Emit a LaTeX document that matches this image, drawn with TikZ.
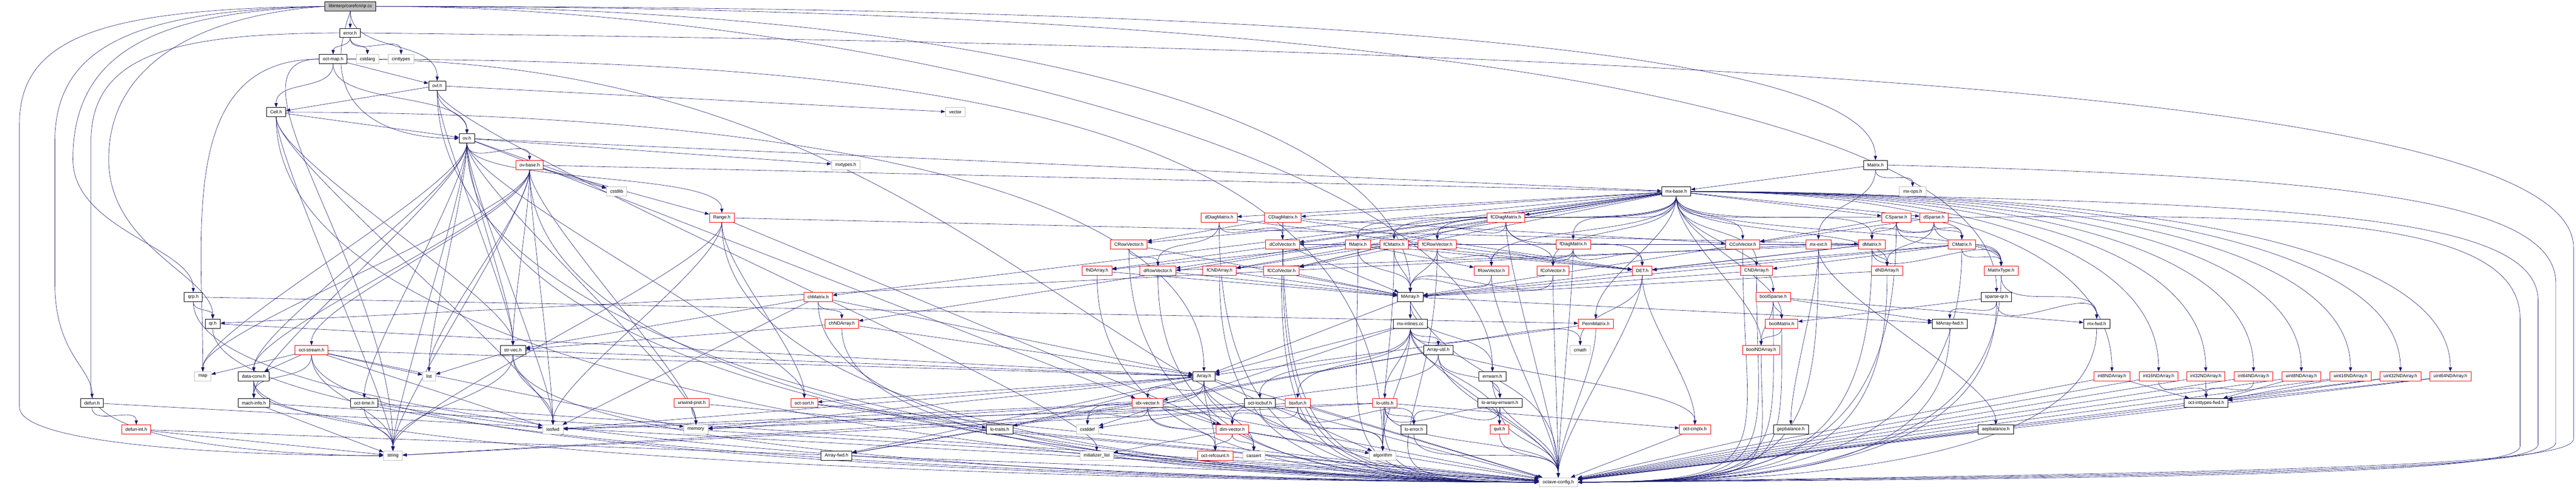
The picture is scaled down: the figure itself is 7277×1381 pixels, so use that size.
\documentclass[tikz,border=0pt]{standalone}
\usepackage{fontspec}
\setmainfont{Liberation Sans}
\usetikzlibrary{arrows.meta,backgrounds}
\definecolor{edgeblue}{HTML}{191970}
\definecolor{extgray}{HTML}{BFBFBF}
\begin{document}
\begin{tikzpicture}[x=0.1pt,y=-0.1pt,
    box/.style={draw, fill=white, line width=0.11pt, inner xsep=1.05pt, inner ysep=0pt, minimum height=2.6pt, font=\fontsize{1.3}{1.5}\selectfont},
    rootbox/.style={box, fill=extgray},
    filebox/.style={box, draw=black},
    trunc/.style={box, draw=red},
    extern/.style={box, draw=extgray},
    dep/.style={draw=edgeblue, line width=0.09pt, -{Triangle[length=1.2pt,width=0.9pt]}},
    dn/.style={out=-90, in=90, max distance=12pt},
    ocl/.style={out=-90, in=180, out distance=#1, in distance=60pt},
    ocr/.style={out=-90, in=0, out distance=#1, in distance=60pt}]
  \useasboundingbox (0,0) rectangle (7277,1381);
  \node[rootbox] (qrcc) at (990,18) {libinterp/corefcn/qr.cc};
  \node[filebox] (errorh) at (989,93) {error.h};
  \node[filebox] (octmap) at (941,167) {oct-map.h};
  \node[extern] (cstdarg) at (1038,167) {cstdarg};
  \node[extern] (cinttypes) at (1133,167) {cinttypes};
  \node[filebox] (ovlh) at (1235,242) {ovl.h};
  \node[filebox] (cellh) at (780,317) {Cell.h};
  \node[extern] (vector) at (2699,317) {vector};
  \node[filebox] (ovh) at (1319,391) {ov.h};
  \node[trunc] (ovbase) at (1496,466) {ov-base.h};
  \node[extern] (mxtypes) at (2389,466) {mxtypes.h};
  \node[filebox] (matrixh) at (5298,466) {Matrix.h};
  \node[extern] (cstdlib) at (1742,541) {cstdlib};
  \node[filebox] (mxbase) at (4735,541) {mx-base.h};
  \node[extern] (mxops) at (5403,541) {mx-ops.h};
  \node[trunc] (rangeh) at (2039,615) {Range.h};
  \node[trunc] (ddiag) at (3444,615) {dDiagMatrix.h};
  \node[trunc] (cdiag) at (3624,615) {CDiagMatrix.h};
  \node[trunc] (fcdiag) at (4254,615) {fCDiagMatrix.h};
  \node[trunc] (csparse) at (5357,615) {CSparse.h};
  \node[trunc] (dsparse) at (5463,615) {dSparse.h};
  \node[trunc] (crowvec) at (3189,690) {CRowVector.h};
  \node[trunc] (dcolvec) at (3623,690) {dColVector.h};
  \node[trunc] (fmatrix) at (3836,690) {fMatrix.h};
  \node[trunc] (fcmatrix) at (3938,690) {fCMatrix.h};
  \node[trunc] (fcrowvec) at (4060,690) {fCRowVector.h};
  \node[trunc] (fdiag) at (4444,690) {fDiagMatrix.h};
  \node[trunc] (ccolvec) at (4923,690) {CColVector.h};
  \node[trunc] (mxext) at (5137,690) {mx-ext.h};
  \node[trunc] (dmatrix) at (5288,690) {dMatrix.h};
  \node[trunc] (cmatrix) at (5542,690) {CMatrix.h};
  \node[trunc] (fnd) at (3099,765) {fNDArray.h};
  \node[trunc] (drowvec) at (3271,765) {dRowVector.h};
  \node[trunc] (fcnd) at (3445,765) {fCNDArray.h};
  \node[trunc] (fccolvec) at (3620,765) {fCColVector.h};
  \node[trunc] (frowvec) at (4213,765) {fRowVector.h};
  \node[trunc] (fcolvec) at (4387,765) {fColVector.h};
  \node[trunc] (deth) at (4639,765) {DET.h};
  \node[trunc] (cnd) at (4962,765) {CNDArray.h};
  \node[trunc] (dnd) at (5331,765) {dNDArray.h};
  \node[trunc] (mtype) at (5653,765) {MatrixType.h};
  \node[filebox] (qrph) at (546,839) {qrp.h};
  \node[trunc] (chmatrix) at (2311,839) {chMatrix.h};
  \node[filebox] (marray) at (3984,839) {MArray.h};
  \node[trunc] (boolsparse) at (5009,839) {boolSparse.h};
  \node[filebox] (sparseqr) at (5640,839) {sparse-qr.h};
  \node[filebox] (qrh) at (601,914) {qr.h};
  \node[trunc] (chnd) at (2378,914) {chNDArray.h};
  \node[filebox] (mxinl) at (3984,914) {mx-inlines.cc};
  \node[trunc] (perm) at (4508,914) {PermMatrix.h};
  \node[trunc] (boolmatrix) at (5033,914) {boolMatrix.h};
  \node[filebox] (marrayfwd) at (5508,914) {MArray-fwd.h};
  \node[filebox] (mxfwd) at (5923,914) {mx-fwd.h};
  \node[trunc] (octstream) at (880,989) {oct-stream.h};
  \node[filebox] (strvec) at (1449,989) {str-vec.h};
  \node[filebox] (arrayutil) at (4063,989) {Array-util.h};
  \node[extern] (cmath) at (4464,989) {cmath};
  \node[trunc] (boolnd) at (4975,989) {boolNDArray.h};
  \node[extern] (map) at (573,1063) {map};
  \node[filebox] (dataconv) at (717,1063) {data-conv.h};
  \node[extern] (list) at (1212,1063) {list};
  \node[filebox] (arrayh) at (3401,1063) {Array.h};
  \node[filebox] (errwarn) at (4216,1063) {errwarn.h};
  \node[trunc] (int8) at (5966,1063) {int8NDArray.h};
  \node[trunc] (int16) at (6098,1063) {int16NDArray.h};
  \node[trunc] (int32) at (6231,1063) {int32NDArray.h};
  \node[trunc] (int64) at (6366,1063) {int64NDArray.h};
  \node[trunc] (uint8) at (6501,1063) {uint8NDArray.h};
  \node[trunc] (uint16) at (6640,1063) {uint16NDArray.h};
  \node[trunc] (uint32) at (6781,1063) {uint32NDArray.h};
  \node[trunc] (uint64) at (6922,1063) {uint64NDArray.h};
  \node[filebox] (defunh) at (260,1138) {defun.h};
  \node[filebox] (machinfo) at (717,1138) {mach-info.h};
  \node[filebox] (octtime) at (1029,1138) {oct-time.h};
  \node[trunc] (unwind) at (1954,1138) {unwind-prot.h};
  \node[trunc] (octsort) at (2272,1138) {oct-sort.h};
  \node[trunc] (idxvec) at (3242,1138) {idx-vector.h};
  \node[filebox] (locbuf) at (3559,1138) {oct-locbuf.h};
  \node[trunc] (bsxfun) at (3666,1138) {bsxfun.h};
  \node[trunc] (loutils) at (3912,1138) {lo-utils.h};
  \node[filebox] (loaerr) at (4237,1138) {lo-array-errwarn.h};
  \node[filebox] (inttypesfwd) at (6232,1138) {oct-inttypes-fwd.h};
  \node[trunc] (defunint) at (385,1213) {defun-int.h};
  \node[extern] (iosfwd) at (1562,1213) {iosfwd};
  \node[extern] (memory) at (1966,1213) {memory};
  \node[filebox] (lotraits) at (2824,1213) {lo-traits.h};
  \node[extern] (cstddef) at (3072,1213) {cstddef};
  \node[trunc] (dimvec) at (3481,1213) {dim-vector.h};
  \node[filebox] (loerror) at (3994,1213) {lo-error.h};
  \node[trunc] (quith) at (4236,1213) {quit.h};
  \node[trunc] (octcmplx) at (4788,1213) {oct-cmplx.h};
  \node[filebox] (gepbal) at (5059,1213) {gepbalance.h};
  \node[filebox] (aepbal) at (5638,1213) {aepbalance.h};
  \node[extern] (string) at (1110,1287) {string};
  \node[filebox] (arrayfwd) at (2363,1287) {Array-fwd.h};
  \node[extern] (initlist) at (3098,1287) {initializer\_list};
  \node[trunc] (refcount) at (3433,1287) {oct-refcount.h};
  \node[extern] (cassert) at (3542,1287) {cassert};
  \node[extern] (algorithm) at (3906,1287) {algorithm};
  \node[extern] (oconf) at (4402,1362) {octave-config.h};
  \begin{scope}[on background layer]
  \fill[white] (0,0) rectangle (7277,1381);
  \draw[dep] (qrcc) -- (errorh);
  \draw[dep] (qrcc.west) .. controls (400,30) and (155,120) .. (155,400) -- (155,800) .. controls (155,1000) and (260,1040) .. (defunh.north);
  \draw[dep] (qrcc.west) .. controls (450,35) and (206,140) .. (206,450) .. controls (206,650) and (546,700) .. (qrph.north);
  \draw[dep] (qrcc.west) .. controls (600,40) and (307,160) .. (307,450) .. controls (307,700) and (601,780) .. (qrh.north);
  \draw[dep] (qrcc.west) .. controls (300,25) and (55,100) .. (55,350) -- (55,1150) .. controls (55,1260) and (700,1287) .. (string.west);
  \draw[dep] (qrcc.south) to[dn] (ovlh.north);
  \draw[dep] (qrcc.south) to[out=-110,in=180,out distance=30pt,in distance=20pt] (ovh.west);
  \draw[dep] (qrcc.east) to[out=0,in=90,out distance=280pt,in distance=30pt] (matrixh.north);
  \draw[dep] (qrcc.east) to[out=0,in=90,out distance=170pt,in distance=50pt] (marray.north);
  \draw[dep] (qrcc.east) to[out=0,in=90,out distance=300pt,in distance=50pt] (sparseqr.north);
  \draw[dep] (qrcc.east) to[out=0,in=90,out distance=130pt,in distance=60pt] (errwarn.north);
  \draw[dep] (errorh.south) to[dn] (octmap.north);
  \draw[dep] (errorh.south) to[dn] (cstdarg.north);
  \draw[dep] (errorh.south) to[dn] (cinttypes.north);
  \draw[dep] (errorh.west) .. controls (500,95) and (257,150) .. (257,400) -- (257,1100) .. controls (257,1250) and (800,1287) .. (string.west);
  \draw[dep] (errorh.east) .. controls (5200,140) and (7270,300) .. (7270,700) -- (7270,1240) .. controls (7270,1320) and (6300,1335) .. (oconf.east);
  \draw[dep] (octmap.south) to[dn] (cellh.north);
  \draw[dep] (octmap) -- (ovlh);
  \draw[dep] (octmap.south) to[dn] (ovh.north);
  \draw[dep] (octmap.west) to[out=180,in=90,out distance=40pt,in distance=40pt] (map.north);
  \draw[dep] (octmap.west) to[out=180,in=90,out distance=30pt,in distance=50pt] (string.north);
  \draw[dep] (octmap.east) to[out=0,in=90,out distance=180pt,in distance=90pt] (algorithm.north);
  \draw[dep] (octmap.east) to[out=0,in=180,out distance=180pt,in distance=120pt] (oconf.west);
  \draw[dep] (ovlh.south) to[dn] (ovh.north);
  \draw[dep] (ovlh) -- (cellh);
  \draw[dep] (ovlh.south) to[dn] (strvec.north);
  \draw[dep] (ovlh) -- (vector);
  \draw[dep] (ovlh.south) to[dn] (initlist.north);
  \draw[dep] (ovlh.south) to[ocl=95pt] (oconf.west);
  \draw[dep] (cellh) -- (ovh);
  \draw[dep] (cellh.south) to[dn] (strvec.north);
  \draw[dep] (cellh.east) to[out=0,in=90,out distance=150pt,in distance=50pt] (arrayh.north);
  \draw[dep] (cellh.south) to[dn] (string.north);
  \draw[dep] (cellh.south) to[dn] (iosfwd.north);
  \draw[dep] (cellh.south) to[ocl=89pt] (oconf.west);
  \draw[dep] (ovh.south) to[dn] (ovbase.north);
  \draw[dep] (ovh) -- (cstdlib);
  \draw[dep] (ovh) -- (mxtypes);
  \draw[dep] (ovh.south) to[dn] (rangeh.north);
  \draw[dep] (ovh.south) to[dn] (iosfwd.north);
  \draw[dep] (ovh.south) to[dn] (string.north);
  \draw[dep] (ovh.south) to[dn] (list.north);
  \draw[dep] (ovh.south) to[dn] (memory.north);
  \draw[dep] (ovh.south) to[dn] (map.north);
  \draw[dep] (ovh.south) to[dn] (dataconv.north);
  \draw[dep] (ovh) -- (idxvec);
  \draw[dep] (ovh.south) to[dn] (machinfo.north);
  \draw[dep] (ovh) -- (mxbase);
  \draw[dep] (ovh.south) to[dn] (octsort.north);
  \draw[dep] (ovh.south) to[dn] (octtime.north);
  \draw[dep] (ovh.south) to[dn] (strvec.north);
  \draw[dep] (ovh.south) to[ocl=82pt] (oconf.west);
  \draw[dep] (ovbase) -- (cstdlib);
  \draw[dep] (ovbase) -- (rangeh);
  \draw[dep] (ovbase) -- (mxbase);
  \draw[dep] (ovbase.south) to[dn] (octstream.north);
  \draw[dep] (ovbase.south) to[dn] (strvec.north);
  \draw[dep] (ovbase.south) to[dn] (iosfwd.north);
  \draw[dep] (ovbase.south) to[dn] (list.north);
  \draw[dep] (ovbase.south) to[dn] (memory.north);
  \draw[dep] (ovbase.south) to[dn] (string.north);
  \draw[dep] (ovbase.south) to[dn] (map.north);
  \draw[dep] (ovbase.south) to[dn] (dataconv.north);
  \draw[dep] (ovbase.south) to[ocl=76pt] (oconf.west);
  \draw[dep] (rangeh.south) to[dn] (iosfwd.north);
  \draw[dep] (rangeh.south) to[dn] (string.north);
  \draw[dep] (rangeh.south) to[dn] (octsort.north);
  \draw[dep] (rangeh) -- (dimvec);
  \draw[dep] (rangeh) -- (dmatrix);
  \draw[dep] (rangeh.south) to[ocl=63pt] (oconf.west);
  \draw[dep] (qrph.south) to[dn] (qrh.north);
  \draw[dep] (qrph) -- (perm);
  \draw[dep] (qrph.south) to[ocl=44pt] (oconf.west);
  \draw[dep] (qrh) -- (arrayh);
  \draw[dep] (qrh.south) to[ocl=38pt] (oconf.west);
  \draw[dep] (octstream) -- (map);
  \draw[dep] (octstream) -- (dataconv);
  \draw[dep] (octstream.south) to[dn] (machinfo.north);
  \draw[dep] (octstream) -- (list);
  \draw[dep] (octstream.south) to[dn] (string.north);
  \draw[dep] (octstream) -- (iosfwd);
  \draw[dep] (octstream) -- (memory);
  \draw[dep] (octstream) -- (arrayh);
  \draw[dep] (octstream.south) to[ocl=32pt] (oconf.west);
  \draw[dep] (dataconv.south) to[dn] (machinfo.north);
  \draw[dep] (dataconv.south) to[dn] (string.north);
  \draw[dep] (dataconv.south) to[ocl=25pt] (oconf.west);
  \draw[dep] (machinfo) -- (string);
  \draw[dep] (machinfo) -- (oconf);
  \draw[dep] (octtime.south) to[dn] (string.north);
  \draw[dep] (octtime) -- (iosfwd);
  \draw[dep] (octtime) -- (oconf);
  \draw[dep] (defunh.south) to[dn] (defunint.north);
  \draw[dep] (defunh) -- (oconf);
  \draw[dep] (defunint) -- (string);
  \draw[dep] (defunint) -- (oconf);
  \draw[dep] (strvec) -- (list);
  \draw[dep] (strvec.south) to[dn] (iosfwd.north);
  \draw[dep] (strvec.south) to[dn] (string.north);
  \draw[dep] (strvec) -- (arrayh);
  \draw[dep] (strvec.south) to[ocl=32pt] (oconf.west);
  \draw[dep] (chmatrix) -- (strvec);
  \draw[dep] (chmatrix.south) to[dn] (chnd.north);
  \draw[dep] (chmatrix) -- (arrayh);
  \draw[dep] (chmatrix) -- (iosfwd);
  \draw[dep] (chmatrix.south) to[ocl=44pt] (oconf.west);
  \draw[dep] (chnd) -- (strvec);
  \draw[dep] (chnd) -- (arrayh);
  \draw[dep] (chnd.south) to[ocl=38pt] (oconf.west);
  \draw[dep] (unwind.south) to[dn] (memory.north);
  \draw[dep] (unwind) -- (oconf);
  \draw[dep] (octsort) -- (lotraits);
  \draw[dep] (octsort) -- (oconf);
  \draw[dep] (arrayh.south) to[dn] (idxvec.north);
  \draw[dep] (arrayh.south) to[dn] (cstddef.north);
  \draw[dep] (arrayh.south) to[dn] (dimvec.north);
  \draw[dep] (arrayh.south) to[dn] (refcount.north);
  \draw[dep] (arrayh.south) to[dn] (cassert.north);
  \draw[dep] (arrayh) -- (lotraits);
  \draw[dep] (arrayh) -- (octsort);
  \draw[dep] (arrayh) -- (iosfwd);
  \draw[dep] (arrayh) -- (memory);
  \draw[dep] (arrayh) -- (algorithm);
  \draw[dep] (arrayh) -- (arrayfwd);
  \draw[dep] (arrayh) -- (oconf);
  \draw[dep] (idxvec) -- (dimvec);
  \draw[dep] (idxvec.south) to[dn] (refcount.north);
  \draw[dep] (idxvec.south) to[dn] (cassert.north);
  \draw[dep] (idxvec.south) to[dn] (cstddef.north);
  \draw[dep] (idxvec) -- (iosfwd);
  \draw[dep] (idxvec) -- (memory);
  \draw[dep] (idxvec) -- (arrayfwd);
  \draw[dep] (idxvec) -- (oconf);
  \draw[dep] (dimvec.south) to[dn] (refcount.north);
  \draw[dep] (dimvec.south) to[dn] (cassert.north);
  \draw[dep] (dimvec) -- (initlist);
  \draw[dep] (dimvec) -- (algorithm);
  \draw[dep] (dimvec) -- (oconf);
  \draw[dep] (refcount) -- (oconf);
  \draw[dep] (locbuf) -- (cstddef);
  \draw[dep] (locbuf.south) to[dn] (algorithm.north);
  \draw[dep] (locbuf) -- (memory);
  \draw[dep] (locbuf) -- (oconf);
  \draw[dep] (lotraits) -- (oconf);
  \draw[dep] (bsxfun.south) to[dn] (dimvec.north);
  \draw[dep] (bsxfun.south) to[dn] (algorithm.north);
  \draw[dep] (bsxfun.south) to[dn] (loerror.north);
  \draw[dep] (bsxfun) -- (string);
  \draw[dep] (bsxfun) -- (oconf);
  \draw[dep] (arrayutil.south) to[dn] (loaerr.north);
  \draw[dep] (arrayutil) -- (arrayfwd);
  \draw[dep] (arrayutil.south) to[dn] (dimvec.north);
  \draw[dep] (arrayutil) -- (idxvec);
  \draw[dep] (arrayutil.south) to[dn] (oconf.north);
  \draw[dep] (errwarn.south) to[dn] (loaerr.north);
  \draw[dep] (errwarn.south) to[dn] (oconf.north);
  \draw[dep] (loaerr.south) to[dn] (quith.north);
  \draw[dep] (loaerr.south) to[dn] (loerror.north);
  \draw[dep] (loaerr.south) to[dn] (oconf.north);
  \draw[dep] (loutils.south) to[dn] (loerror.north);
  \draw[dep] (loutils.south) to[dn] (quith.north);
  \draw[dep] (loutils) -- (octcmplx);
  \draw[dep] (loutils.south) to[dn] (algorithm.north);
  \draw[dep] (loutils) -- (iosfwd);
  \draw[dep] (loutils) -- (string);
  \draw[dep] (loutils.south) to[dn] (oconf.north);
  \draw[dep] (loerror.south) to[dn] (oconf.north);
  \draw[dep] (quith.south) to[dn] (oconf.north);
  \draw[dep] (octcmplx) -- (oconf);
  \draw[dep] (mxinl.south) to[dn] (arrayutil.north);
  \draw[dep] (mxinl.south) to[dn] (cmath.north);
  \draw[dep] (mxinl.south) to[dn] (bsxfun.north);
  \draw[dep] (mxinl.south) to[dn] (octcmplx.north);
  \draw[dep] (mxinl.south) to[dn] (locbuf.north);
  \draw[dep] (mxinl.south) to[dn] (loutils.north);
  \draw[dep] (mxinl.south) to[dn] (quith.north);
  \draw[dep] (mxinl.south) to[dn] (algorithm.north);
  \draw[dep] (mxinl) -- (cstddef);
  \draw[dep] (mxinl) -- (arrayh);
  \draw[dep] (mxinl.south) to[dn] (oconf.north);
  \draw[dep] (marray.south) to[dn] (mxinl.north);
  \draw[dep] (marray) -- (arrayh);
  \draw[dep] (marray) -- (marrayfwd);
  \draw[dep] (marray.south) to[dn] (errwarn.north);
  \draw[dep] (marray.south) to[out=-60,in=90,out distance=30pt,in distance=30pt] (oconf.north);
  \draw[dep] (perm) -- (arrayh);
  \draw[dep] (perm.south) to[dn] (oconf.north);
  \draw[dep] (deth.south) to[dn] (cmath.north);
  \draw[dep] (deth.south) to[dn] (octcmplx.north);
  \draw[dep] (deth.south) to[dn] (oconf.north);
  \draw[dep] (fnd) -- (marray);
  \draw[dep] (fnd.south) to[ocl=51pt] (oconf.west);
  \draw[dep] (drowvec) -- (marray);
  \draw[dep] (drowvec.south) to[ocl=51pt] (oconf.west);
  \draw[dep] (fcnd) -- (marray);
  \draw[dep] (fcnd.south) to[ocl=51pt] (oconf.west);
  \draw[dep] (fccolvec) -- (marray);
  \draw[dep] (fccolvec.south) to[ocl=51pt] (oconf.west);
  \draw[dep] (frowvec.south) to[dn] (marray.north);
  \draw[dep] (frowvec.south) to[dn] (oconf.north);
  \draw[dep] (fcolvec.south) to[dn] (marray.north);
  \draw[dep] (fcolvec.south) to[dn] (oconf.north);
  \draw[dep] (cnd) -- (marray);
  \draw[dep] (cnd.south) to[ocr=51pt] (oconf.east);
  \draw[dep] (dnd) -- (marray);
  \draw[dep] (dnd.south) to[ocr=51pt] (oconf.east);
  \draw[dep] (mtype.south) to[dn] (mxfwd.north);
  \draw[dep] (mtype.south) to[ocr=51pt] (oconf.east);
  \draw[dep] (crowvec.south) to[dn] (drowvec.north);
  \draw[dep] (crowvec) -- (marray);
  \draw[dep] (crowvec.south) to[ocl=57pt] (oconf.west);
  \draw[dep] (dcolvec) -- (marray);
  \draw[dep] (dcolvec.south) to[ocl=57pt] (oconf.west);
  \draw[dep] (fmatrix) -- (frowvec);
  \draw[dep] (fmatrix) -- (fnd);
  \draw[dep] (fmatrix) -- (deth);
  \draw[dep] (fmatrix.south) to[dn] (marray.north);
  \draw[dep] (fmatrix.south) to[ocl=57pt] (oconf.west);
  \draw[dep] (fcmatrix) -- (fccolvec);
  \draw[dep] (fcmatrix) -- (fcnd);
  \draw[dep] (fcmatrix) -- (deth);
  \draw[dep] (fcmatrix.south) to[dn] (marray.north);
  \draw[dep] (fcmatrix.south) to[ocl=57pt] (oconf.west);
  \draw[dep] (fcrowvec.south) to[dn] (frowvec.north);
  \draw[dep] (fcrowvec.south) to[dn] (marray.north);
  \draw[dep] (fcrowvec.south) to[ocl=57pt] (oconf.west);
  \draw[dep] (fdiag.south) to[dn] (fcolvec.north);
  \draw[dep] (fdiag.south) to[dn] (frowvec.north);
  \draw[dep] (fdiag.south) to[dn] (deth.north);
  \draw[dep] (fdiag.south) to[dn] (oconf.north);
  \draw[dep] (ccolvec) -- (marray);
  \draw[dep] (ccolvec.south) to[ocr=57pt] (oconf.east);
  \draw[dep] (mxext.south) to[dn] (aepbal.north);
  \draw[dep] (mxext.south) to[dn] (gepbal.north);
  \draw[dep] (mxext) -- (qrh);
  \draw[dep] (mxext.south) to[ocr=57pt] (oconf.east);
  \draw[dep] (dmatrix.south) to[dn] (dnd.north);
  \draw[dep] (dmatrix.south) to[dn] (mtype.north);
  \draw[dep] (dmatrix) -- (deth);
  \draw[dep] (dmatrix) -- (dcolvec);
  \draw[dep] (dmatrix) -- (drowvec);
  \draw[dep] (dmatrix) -- (marray);
  \draw[dep] (dmatrix.south) to[ocr=57pt] (oconf.east);
  \draw[dep] (cmatrix.south) to[dn] (mtype.north);
  \draw[dep] (cmatrix) -- (cnd);
  \draw[dep] (cmatrix) -- (deth);
  \draw[dep] (cmatrix) -- (marray);
  \draw[dep] (cmatrix.south) to[ocr=57pt] (oconf.east);
  \draw[dep] (ddiag.south) to[dn] (dcolvec.north);
  \draw[dep] (ddiag.south) to[dn] (drowvec.north);
  \draw[dep] (ddiag) -- (deth);
  \draw[dep] (ddiag.south) to[ocl=63pt] (oconf.west);
  \draw[dep] (cdiag.south) to[dn] (dcolvec.north);
  \draw[dep] (cdiag) -- (crowvec);
  \draw[dep] (cdiag) -- (ccolvec);
  \draw[dep] (cdiag) -- (deth);
  \draw[dep] (cdiag.south) to[ocl=63pt] (oconf.west);
  \draw[dep] (fcdiag.south) to[dn] (fcrowvec.north);
  \draw[dep] (fcdiag) -- (fccolvec);
  \draw[dep] (fcdiag.south) to[dn] (fcolvec.north);
  \draw[dep] (fcdiag.south) to[dn] (deth.north);
  \draw[dep] (fcdiag.south) to[dn] (oconf.north);
  \draw[dep] (csparse) -- (ccolvec);
  \draw[dep] (csparse.south) to[dn] (dmatrix.north);
  \draw[dep] (csparse.south) to[dn] (cmatrix.north);
  \draw[dep] (csparse.south) to[dn] (mtype.north);
  \draw[dep] (csparse.south) to[ocr=63pt] (oconf.east);
  \draw[dep] (dsparse) -- (ccolvec);
  \draw[dep] (dsparse.south) to[dn] (dmatrix.north);
  \draw[dep] (dsparse.south) to[dn] (cmatrix.north);
  \draw[dep] (dsparse.south) to[dn] (mtype.north);
  \draw[dep] (dsparse.south) to[dn] (dnd.north);
  \draw[dep] (dsparse.east) .. controls (6500,600) and (7119,620) .. (7119,900) -- (7119,1260) .. controls (7119,1335) and (6300,1350) .. (oconf.east);
  \draw[dep] (boolsparse.south) to[dn] (boolmatrix.north);
  \draw[dep] (boolsparse.south) to[dn] (boolnd.north);
  \draw[dep] (boolsparse) -- (mxfwd);
  \draw[dep] (boolsparse) -- (marrayfwd);
  \draw[dep] (boolsparse.south) to[ocr=44pt] (oconf.east);
  \draw[dep] (boolmatrix.south) to[dn] (boolnd.north);
  \draw[dep] (boolmatrix.south) to[ocr=38pt] (oconf.east);
  \draw[dep] (boolnd.south) to[ocr=32pt] (oconf.east);
  \draw[dep] (sparseqr.south) to[dn] (marrayfwd.north);
  \draw[dep] (sparseqr.south) to[dn] (mxfwd.north);
  \draw[dep] (sparseqr) -- (boolmatrix);
  \draw[dep] (sparseqr.south) to[ocr=44pt] (oconf.east);
  \draw[dep] (marrayfwd.south) to[ocr=38pt] (oconf.east);
  \draw[dep] (mxfwd.south) to[ocr=38pt] (oconf.east);
  \draw[dep] (gepbal) -- (oconf);
  \draw[dep] (aepbal) -- (oconf);
  \draw[dep] (matrixh) -- (mxbase);
  \draw[dep] (matrixh.south) to[dn] (mxops.north);
  \draw[dep] (matrixh.south) to[dn] (mxext.north);
  \draw[dep] (matrixh.east) .. controls (6600,500) and (7220,560) .. (7220,800) -- (7220,1250) .. controls (7220,1325) and (6300,1340) .. (oconf.east);
  \draw[dep] (mxbase.south) to[dn] (mtype.north);
  \draw[dep] (mxbase.south) to[dn] (boolmatrix.north);
  \draw[dep] (mxbase.south) to[dn] (boolnd.north);
  \draw[dep] (mxbase) -- (chmatrix);
  \draw[dep] (mxbase) -- (chnd);
  \draw[dep] (mxbase) -- (dcolvec);
  \draw[dep] (mxbase) -- (drowvec);
  \draw[dep] (mxbase.south) to[dn] (dmatrix.north);
  \draw[dep] (mxbase.south) to[dn] (dnd.north);
  \draw[dep] (mxbase) -- (ddiag);
  \draw[dep] (mxbase.south) to[dn] (ccolvec.north);
  \draw[dep] (mxbase) -- (crowvec);
  \draw[dep] (mxbase.south) to[dn] (cmatrix.north);
  \draw[dep] (mxbase.south) to[dn] (cnd.north);
  \draw[dep] (mxbase) -- (cdiag);
  \draw[dep] (mxbase.south) to[dn] (fcolvec.north);
  \draw[dep] (mxbase.south) to[dn] (frowvec.north);
  \draw[dep] (mxbase.south) to[dn] (fmatrix.north);
  \draw[dep] (mxbase) -- (fnd);
  \draw[dep] (mxbase.south) to[dn] (fdiag.north);
  \draw[dep] (mxbase) -- (fccolvec);
  \draw[dep] (mxbase.south) to[dn] (fcrowvec.north);
  \draw[dep] (mxbase.south) to[dn] (fcmatrix.north);
  \draw[dep] (mxbase) -- (fcnd);
  \draw[dep] (mxbase) -- (fcdiag);
  \draw[dep] (mxbase.south) to[dn] (perm.north);
  \draw[dep] (mxbase.south) to[dn] (boolsparse.north);
  \draw[dep] (mxbase) -- (csparse);
  \draw[dep] (mxbase) -- (dsparse);
  \draw[dep] (mxbase.east) to[out=0,in=90,out distance=80pt,in distance=30pt] (int8.north);
  \draw[dep] (mxbase.east) to[out=0,in=90,out distance=90pt,in distance=30pt] (int16.north);
  \draw[dep] (mxbase.east) to[out=0,in=90,out distance=95pt,in distance=32pt] (int32.north);
  \draw[dep] (mxbase.east) to[out=0,in=90,out distance=100pt,in distance=33pt] (int64.north);
  \draw[dep] (mxbase.east) to[out=0,in=90,out distance=105pt,in distance=34pt] (uint8.north);
  \draw[dep] (mxbase.east) to[out=0,in=90,out distance=115pt,in distance=34pt] (uint16.north);
  \draw[dep] (mxbase.east) to[out=0,in=90,out distance=125pt,in distance=34pt] (uint32.north);
  \draw[dep] (mxbase.east) to[out=0,in=90,out distance=135pt,in distance=34pt] (uint64.north);
  \draw[dep] (mxbase.east) .. controls (6400,575) and (7170,590) .. (7170,850) -- (7170,1255) .. controls (7170,1330) and (6300,1345) .. (oconf.east);
  \draw[dep] (int8) -- (inttypesfwd);
  \draw[dep] (int16.south) to[dn] (inttypesfwd.north);
  \draw[dep] (int32.south) to[dn] (inttypesfwd.north);
  \draw[dep] (int64.south) to[dn] (inttypesfwd.north);
  \draw[dep] (uint8) -- (inttypesfwd);
  \draw[dep] (uint16) -- (inttypesfwd);
  \draw[dep] (uint32) -- (inttypesfwd);
  \draw[dep] (uint64) -- (inttypesfwd);
  \draw[dep] (int8) -- (oconf);
  \draw[dep] (int16) -- (oconf);
  \draw[dep] (int32) -- (oconf);
  \draw[dep] (int64) -- (oconf);
  \draw[dep] (uint8) -- (oconf);
  \draw[dep] (uint16) -- (oconf);
  \draw[dep] (uint32) -- (oconf);
  \draw[dep] (uint64) -- (oconf);
  \draw[dep] (inttypesfwd) -- (oconf);
  \end{scope}
\end{tikzpicture}
\end{document}
